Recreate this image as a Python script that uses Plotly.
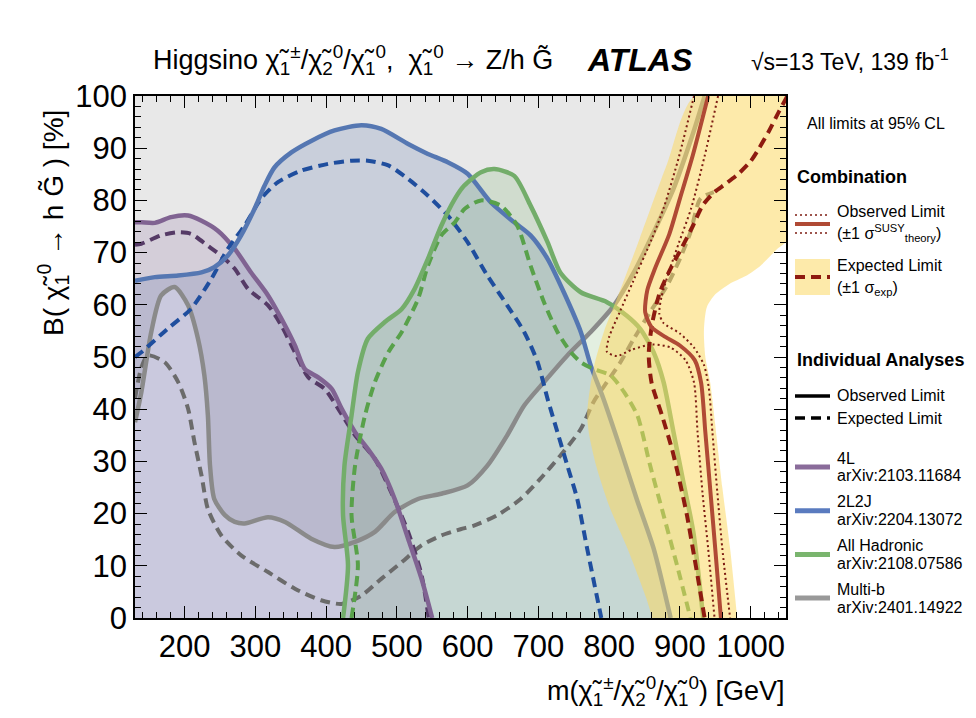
import plotly.graph_objects as go

# ---- individual analyses (m [GeV], B [%]) ----
fourl_obs_m = [130, 139, 158, 181, 205, 224, 247, 271, 294, 318, 337, 356, 370, 389, 408, 422, 441, 459, 478, 497, 516, 535, 550]
fourl_obs_b = [75.8, 75.8, 75.7, 76.8, 77.1, 76.1, 74.2, 70.7, 66.2, 61.8, 57.3, 52.2, 47.7, 46.1, 43.9, 40.1, 35.6, 32.4, 28.6, 22.8, 15.2, 7.5, 0]
fourl_exp_m = [130, 139, 167, 191, 209, 233, 252, 271, 290, 318, 337, 356, 375, 398, 417, 441, 469, 492, 516, 535, 545]
fourl_exp_b = [71.5, 71.7, 73.3, 73.9, 73.6, 71.3, 69.4, 66.9, 63.0, 59.9, 56.0, 50.9, 46.1, 43.9, 40.1, 35.0, 30.5, 24.1, 16.5, 8.2, 0]

l2j2_obs_m = [130, 158, 191, 224, 242, 261, 280, 299, 313, 327, 351, 379, 412, 450, 478, 516, 544, 572, 600, 633, 666, 689, 713, 736, 760, 774, 792, 816, 839, 863, 887]
l2j2_obs_b = [64.6, 65.3, 65.6, 66.2, 67.2, 69.4, 73.3, 78.4, 82.8, 86.3, 89.2, 91.4, 93.4, 94.4, 93.7, 90.8, 88.9, 87.3, 85.1, 79.6, 75.8, 73.3, 68.8, 62.4, 54.8, 48.4, 42.0, 32.4, 22.8, 13.3, 0]
l2j2_exp_m = [130, 139, 176, 209, 238, 261, 285, 308, 332, 365, 403, 436, 459, 488, 516, 544, 572, 600, 628, 656, 680, 699, 713, 727, 741, 755, 769, 789]
l2j2_exp_b = [50.0, 50.9, 55.4, 59.2, 65.0, 70.7, 75.2, 80.3, 83.5, 85.7, 87.0, 87.6, 87.6, 86.7, 84.1, 80.9, 77.1, 72.0, 65.6, 59.9, 54.8, 49.0, 42.0, 35.6, 29.2, 22.8, 13.3, 0]

had_obs_m = [424, 431, 424, 426, 436, 445, 459, 483, 507, 525, 544, 563, 582, 595, 619, 638, 666, 689, 713, 731, 760, 797, 825, 844, 863, 877, 891, 905, 919, 933]
had_obs_b = [0, 10.1, 19.7, 29.2, 38.8, 47.1, 53.5, 56.7, 59.2, 63.0, 68.8, 75.2, 80.3, 82.8, 85.4, 86.0, 84.7, 79.0, 72.0, 66.2, 62.4, 60.5, 57.9, 55.4, 50.9, 45.2, 35.6, 26.0, 16.5, 0]
had_exp_m = [436, 445, 436, 441, 455, 469, 488, 507, 530, 544, 563, 582, 596, 619, 647, 670, 689, 708, 727, 746, 760, 778, 802, 821, 840, 858, 877, 896, 915]
had_exp_b = [0, 10.1, 19.7, 29.2, 38.8, 45.2, 50.9, 54.8, 61.1, 67.5, 73.3, 75.8, 78.4, 80.0, 79.0, 75.2, 67.5, 60.5, 54.8, 50.9, 49.0, 47.7, 46.5, 43.3, 38.8, 29.2, 19.7, 10.1, 0]

mb_obs_m = [130, 139, 153, 167, 186, 205, 219, 228, 233, 236, 242, 257, 271, 285, 318, 342, 379, 412, 441, 469, 497, 530, 563, 600, 628, 656, 680, 708, 741, 774, 807, 835, 863, 891, 919, 935]
mb_obs_b = [37.5, 43.3, 54.8, 61.8, 63.4, 59.9, 53.5, 46.5, 38.8, 29.2, 22.8, 19.7, 18.4, 18.1, 19.3, 18.4, 15.2, 13.6, 14.6, 16.5, 20.3, 22.8, 23.8, 25.4, 29.2, 35.0, 40.7, 45.2, 50.3, 54.8, 59.9, 66.2, 73.9, 82.2, 93.0, 100]
mb_exp_m = [130, 139, 148, 172, 191, 205, 214, 224, 233, 252, 280, 318, 356, 393, 422, 450, 478, 507, 535, 563, 590, 609, 642, 675, 703, 731, 760, 778, 797, 816, 835, 858, 882, 900, 915, 929, 948]
mb_exp_b = [42.0, 48.0, 50.3, 49.0, 45.2, 40.1, 33.7, 27.3, 20.9, 15.8, 12.0, 8.8, 5.6, 3.4, 2.7, 4.3, 7.5, 10.7, 13.9, 15.8, 17.0, 17.7, 19.7, 22.8, 26.7, 31.1, 36.2, 41.4, 45.2, 49.0, 53.5, 58.6, 63.7, 68.8, 73.9, 80.3, 81.6]

# ---- combination ----
comb_obs_m = [940, 918, 900, 885, 865, 854, 851, 860, 880, 900, 921, 930, 936, 943, 950, 958]
comb_obs_b = [100, 88.5, 80.3, 73.5, 67.0, 62.8, 58.6, 55.7, 53.8, 52.2, 49.4, 45.1, 35.6, 24.5, 13.3, 0]
comb_th_lo_m = [920, 899, 877, 860, 834, 815, 800, 797, 811, 832, 861, 887, 908, 920, 925, 932, 940, 949]
comb_th_lo_b = [100, 88.5, 78.5, 72.5, 64.5, 58.6, 53.8, 51.0, 50.2, 51.4, 52.4, 51.8, 49.4, 45.1, 35.6, 24.0, 13.3, 0]
comb_th_hi_m = [954, 935, 916, 899, 885, 874, 871, 877, 900, 920, 934, 941, 946, 953, 960, 971]
comb_th_hi_b = [100, 88.5, 78.5, 72.0, 66.5, 61.5, 58.3, 56.5, 54.5, 51.8, 48.5, 44.0, 35.6, 24.0, 13.3, 0]
comb_exp_m = [1052, 1040, 1026, 1012, 1000, 982, 965, 948, 932, 918, 903, 889, 872, 861, 856, 860, 875, 889, 900, 910, 920, 927, 935]
comb_exp_b = [100, 97.0, 93.3, 90.0, 87.5, 85.0, 83.2, 81.5, 79.0, 75.0, 71.0, 67.5, 62.5, 56.5, 50.5, 45.1, 38.7, 32.3, 26.0, 19.7, 12.0, 6.5, 0]
band_left_m = [861, 852, 826, 800, 782, 772, 769, 773, 780, 793, 812, 843, 882, 921]
band_left_b = [0, 4.0, 13.3, 21.5, 29.0, 35.0, 39.0, 44.0, 49.0, 55.0, 61.5, 72.6, 87.0, 100]
band_right_m = [1060, 1060, 1036, 1014, 993, 970, 950, 938, 934, 936, 943, 950, 960, 971, 981]
band_right_b = [100, 73.5, 70.5, 67.5, 65.5, 64.0, 62.0, 59.5, 55.0, 50.0, 45.0, 37.0, 25.0, 13.3, 0]

legend_names = ["4L", "2L2J", "All Hadronic", "Multi-b"]
legend_refs = ["arXiv:2103.11684", "arXiv:2204.13072", "arXiv:2108.07586", "arXiv:2401.14922"]

X_RANGE = [130, 1050]
FONT = "Liberation Sans, Arial, sans-serif"

PURPLE, PURPLE_D = "#806392", "#553a66"
BLUE, BLUE_D = "#5577b2", "#1f4e9e"
GREEN, GREEN_D = "#73ad6a", "#58a14a"
GREY, GREY_D = "#8a8a8a", "#6b6b6b"
RED_OBS, RED_EXP, RED_DOT = "#b04a35", "#8e1b10", "#7d1c12"
YELLOW = "rgba(252,217,100,0.55)"
DASH = "10px,6px"

fig = go.Figure()


def line(m, b, color, width=4.5, dash=None):
    fig.add_trace(go.Scatter(
        x=m, y=b, mode="lines",
        line=dict(color=color, width=width, dash=dash, shape="spline", smoothing=0.7),
        hoverinfo="skip", showlegend=False,
    ))


def area(m, b, color):
    fig.add_trace(go.Scatter(
        x=m, y=b, mode="lines", line=dict(width=0, shape="spline", smoothing=0.7),
        fill="toself", fillcolor=color, hoverinfo="skip", showlegend=False,
    ))


# excluded regions (filled)
area([X_RANGE[0] - 10] + mb_obs_m + [mb_obs_m[-1] + 5, X_RANGE[0] - 10],
     [mb_obs_b[0]] + mb_obs_b + [105, 105], "rgba(128,128,128,0.18)")
area(l2j2_obs_m + [l2j2_obs_m[-1], X_RANGE[0] - 10, X_RANGE[0] - 10],
     l2j2_obs_b + [-5, -5, l2j2_obs_b[0]], "rgba(80,110,170,0.2)")
area(fourl_obs_m + [fourl_obs_m[-1], X_RANGE[0] - 10, X_RANGE[0] - 10],
     fourl_obs_b + [-5, -5, fourl_obs_b[0]], "rgba(120,90,150,0.18)")
area([had_obs_m[0]] + had_obs_m + [had_obs_m[-1]],
     [-5] + had_obs_b + [-5], "rgba(100,165,90,0.18)")

# individual analysis lines
line(mb_exp_m, mb_exp_b, GREY_D, 4, DASH)
line(mb_obs_m, mb_obs_b, GREY)
line(fourl_exp_m, fourl_exp_b, PURPLE_D, 4, DASH)
line(fourl_obs_m, fourl_obs_b, PURPLE)
line(l2j2_exp_m, l2j2_exp_b, BLUE_D, 4, DASH)
line(l2j2_obs_m, l2j2_obs_b, BLUE)
line(had_exp_m, had_exp_b, GREEN_D, 4, DASH)
line(had_obs_m, had_obs_b, GREEN)

# combination: expected band + lines
area(band_left_m + band_right_m, band_left_b + band_right_b, YELLOW)
line(comb_exp_m, comb_exp_b, RED_EXP, 4, DASH)
line(comb_th_lo_m, comb_th_lo_b, RED_DOT, 2, "2px,3px")
line(comb_th_hi_m, comb_th_hi_b, RED_DOT, 2, "2px,3px")
line(comb_obs_m, comb_obs_b, RED_OBS, 4)


# ---- annotations / legend (pixel helpers) ----
def px(x):
    return (x - 127) / 651


def py(y):
    return (610 - y) / 522


def text(x, y, s, size=16, anchor="left", **kw):
    fig.add_annotation(x=px(x), y=py(y), xref="paper", yref="paper", text=s,
                       showarrow=False, xanchor=anchor, yanchor="middle", borderpad=0,
                       font=dict(family=FONT, size=size, color="black"), **kw)


def seg(y, color, width, dash=None):
    fig.add_shape(type="line", xref="paper", yref="paper", x0=px(787), x1=px(822),
                  y0=py(y), y1=py(y), line=dict(color=color, width=width, dash=dash))


chi = "\u03c7\u0303"
G = "G\u0303"
text(345, 52, f"Higgsino {chi}<sub>1</sub><sup>\u00b1</sup>/{chi}<sub>2</sub><sup>0</sup>/{chi}<sub>1</sub><sup>0</sup>,  "
     f"{chi}<sub>1</sub><sup>0</sup> \u2192 Z/h {G}", size=27, anchor="center")
text(632, 52, "<b><i>ATLAS</i></b>", size=32, anchor="center")
text(842, 52, "\u221as=13 TeV, 139 fb<sup>-1</sup>", size=23, anchor="center")

text(45, 215, f"B( {chi}<sub>1</sub><sup>0</sup> \u2192 h {G} ) [%]", size=28, anchor="center", textangle=-90)
text(778, 683, f"m({chi}<sub>1</sub><sup>\u00b1</sup>/{chi}<sub>2</sub><sup>0</sup>/{chi}<sub>1</sub><sup>0</sup>) [GeV]",
     size=27, anchor="right")

text(798, 115, "All limits at 95% CL", 16)
text(788, 169, "<b>Combination</b>", 18)
seg(207, RED_DOT, 1.5, "2px,3px")
seg(216, RED_OBS, 4)
seg(225, RED_DOT, 1.5, "2px,3px")
text(828, 203, "Observed Limit")
text(828, 225, "(\u00b11 \u03c3<sup>SUSY</sup><sub>theory</sub>)")
fig.add_shape(type="rect", xref="paper", yref="paper", x0=px(787), x1=px(822), y0=py(287), y1=py(251),
              fillcolor=YELLOW, line=dict(width=0))
seg(269, RED_EXP, 4, "10px,6px")
text(828, 257, "Expected Limit")
text(828, 280, "(\u00b11 \u03c3<sub>exp</sub>)")

text(788, 352, "<b>Individual Analyses</b>", 18)
seg(388, "black", 3.5)
seg(410, "black", 3.5, "10px,6px")
text(828, 387, "Observed Limit")
text(828, 410, "Expected Limit")
legend_colors = ["#8a6c9a", "#5a7bbf", "#7ab56e", "#999999"]
for i, (name, ref) in enumerate(zip(legend_names, legend_refs)):
    y0 = 450 + i * 43.7
    seg(y0 + 9, legend_colors[i], 5)
    text(828, y0, name)
    text(828, y0 + 18, ref)

axis_common = dict(showgrid=False, zeroline=False, showline=True, linecolor="black", linewidth=1.5,
                   mirror="allticks", ticks="inside", ticklen=12, tickwidth=1.2, tickcolor="black",
                   tickfont=dict(family=FONT, size=31, color="black"))
fig.update_xaxes(range=X_RANGE, tick0=0, dtick=100,
                 minor=dict(ticks="inside", dtick=20, ticklen=6, tickwidth=1.2, tickcolor="black", showgrid=False),
                 **axis_common)
fig.update_yaxes(range=[0, 100], tick0=0, dtick=10,
                 minor=dict(ticks="inside", dtick=2, ticklen=6, tickwidth=1.2, tickcolor="black", showgrid=False),
                 **axis_common)

fig.update_layout(width=976, height=718, margin=dict(l=127, r=198, t=88, b=108),
                  plot_bgcolor="white", paper_bgcolor="white", showlegend=False,
                  font=dict(family=FONT))

fig.write_html("out.html")
